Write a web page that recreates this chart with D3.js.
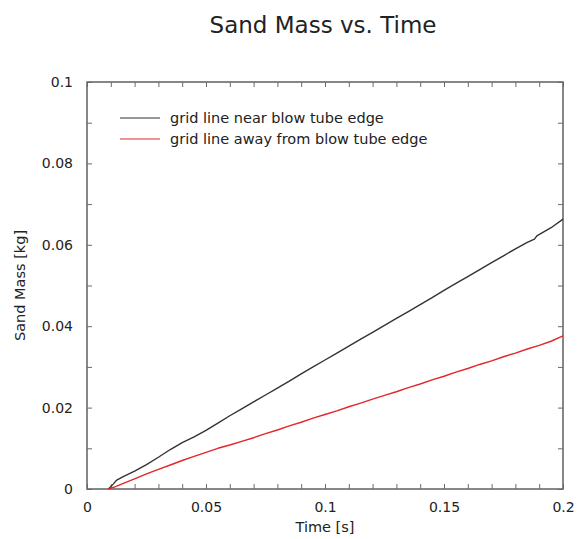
<!DOCTYPE html>
<html>
<head>
<meta charset="utf-8">
<script src="https://cdn.jsdelivr.net/npm/d3@7/dist/d3.min.js"></script>
<style>
  html, body { margin: 0; padding: 0; background: #fff; }
  svg { display: block; }
  text { font-family: "DejaVu Sans", sans-serif; fill: #222; }
</style>
</head>
<body>
<svg id="chart" width="577" height="539"></svg>
<script>
// Sand mass collected on two grid lines over time
const titleText = "Sand Mass vs. Time";
const xLabel = "Time [s]";
const yLabel = "Sand Mass [kg]";
const seriesNames = ["grid line near blow tube edge", "grid line away from blow tube edge"];
const seriesColors = ["#333333", "#e3262a"];

const xTickValues = [0, 0.05, 0.1, 0.15, 0.2];
const xTickLabels = ["0", "0.05", "0.1", "0.15", "0.2"];
const yTickValues = [0, 0.02, 0.04, 0.06, 0.08, 0.1];
const yTickLabels = ["0", "0.02", "0.04", "0.06", "0.08", "0.1"];

// near blow tube edge
const nearTime = [0.009, 0.011, 0.0125, 0.015, 0.02, 0.025, 0.03, 0.035, 0.04, 0.045, 0.05, 0.055,
  0.06, 0.065, 0.07, 0.075, 0.08, 0.085, 0.09, 0.095, 0.1, 0.105, 0.11, 0.115, 0.12, 0.125,
  0.13, 0.135, 0.14, 0.145, 0.15, 0.155, 0.16, 0.165, 0.17, 0.175, 0.18, 0.185, 0.188, 0.189,
  0.195, 0.2];
const nearMass = [0, 0.0012, 0.0022, 0.0030, 0.0044, 0.0060, 0.0078, 0.0097, 0.0114, 0.0128, 0.0144, 0.0162,
  0.0180, 0.0197, 0.0214, 0.0231, 0.0248, 0.0265, 0.0283, 0.0300, 0.0317, 0.0334, 0.0351, 0.0368, 0.0385, 0.0402,
  0.0419, 0.0436, 0.0453, 0.0470, 0.0488, 0.0505, 0.0522, 0.0539, 0.0556, 0.0573, 0.0590, 0.0606, 0.0614, 0.0622,
  0.0642, 0.0663];

// away from blow tube edge
const awayTime = [0.009, 0.012, 0.015, 0.02, 0.025, 0.03, 0.035, 0.04, 0.045, 0.05, 0.055, 0.06,
  0.065, 0.07, 0.075, 0.08, 0.085, 0.09, 0.095, 0.1, 0.105, 0.11, 0.115, 0.12, 0.125, 0.13,
  0.135, 0.14, 0.145, 0.15, 0.155, 0.16, 0.165, 0.17, 0.175, 0.18, 0.185, 0.19, 0.195, 0.2];
const awayMass = [0, 0.0006, 0.0013, 0.0025, 0.0037, 0.0048, 0.0059, 0.0070, 0.0080, 0.0090, 0.0100, 0.0108,
  0.0117, 0.0126, 0.0136, 0.0145, 0.0155, 0.0164, 0.0174, 0.0183, 0.0192, 0.0202, 0.0211, 0.0221, 0.0230, 0.0239,
  0.0249, 0.0258, 0.0268, 0.0277, 0.0287, 0.0296, 0.0306, 0.0315, 0.0325, 0.0334, 0.0344, 0.0353, 0.0363, 0.0376];

const svg = d3.select("#chart");
const m = { left: 87, right: 563, top: 82, bottom: 489 };

const x = d3.scaleLinear().domain([0, 0.2]).range([m.left, m.right]);
const y = d3.scaleLinear().domain([0, 0.1]).range([m.bottom, m.top]);

const axisColor = "#6a6a6a";
const tickLen = 5;

// title
svg.append("text")
  .attr("x", 323).attr("y", 33)
  .attr("text-anchor", "middle")
  .style("font-size", "23px")
  .text(titleText);

// minor + major ticks every 0.01 on all four sides (pointing inward)
const xMinor = d3.range(0, 21).map(i => i / 100);
const yMinor = d3.range(0, 11).map(i => i / 100);

function styleAxis(g) {
  g.select(".domain").remove();
  g.selectAll(".tick line").attr("stroke", axisColor).attr("stroke-width", 1);
  g.selectAll(".tick text").style("font-size", "14px").attr("fill", "#222");
}

svg.append("g")
  .attr("transform", `translate(0,${m.bottom})`)
  .call(d3.axisBottom(x).tickValues(xMinor).tickSize(-tickLen).tickFormat(""))
  .call(styleAxis);
svg.append("g")
  .attr("transform", `translate(0,${m.top})`)
  .call(d3.axisTop(x).tickValues(xMinor).tickSize(-tickLen).tickFormat(""))
  .call(styleAxis);
svg.append("g")
  .attr("transform", `translate(${m.left},0)`)
  .call(d3.axisLeft(y).tickValues(yMinor).tickSize(-tickLen).tickFormat(""))
  .call(styleAxis);
svg.append("g")
  .attr("transform", `translate(${m.right},0)`)
  .call(d3.axisRight(y).tickValues(yMinor).tickSize(-tickLen).tickFormat(""))
  .call(styleAxis);

// tick labels
svg.append("g")
  .attr("transform", `translate(0,${m.bottom})`)
  .call(d3.axisBottom(x).tickValues(xTickValues).tickSize(0).tickPadding(13)
    .tickFormat((d, i) => xTickLabels[i]))
  .call(styleAxis);
svg.append("g")
  .attr("transform", `translate(${m.left},0)`)
  .call(d3.axisLeft(y).tickValues(yTickValues).tickSize(0).tickPadding(14)
    .tickFormat((d, i) => yTickLabels[i]))
  .call(styleAxis);

// frame
svg.append("rect")
  .attr("x", m.left).attr("y", m.top)
  .attr("width", m.right - m.left).attr("height", m.bottom - m.top)
  .attr("fill", "none").attr("stroke", axisColor).attr("stroke-width", 1.6);

// axis titles
svg.append("text")
  .attr("x", (m.left + m.right) / 2).attr("y", 532)
  .attr("text-anchor", "middle")
  .style("font-size", "14.5px")
  .text(xLabel);
svg.append("text")
  .attr("transform", `translate(25,${(m.top + m.bottom) / 2}) rotate(-90)`)
  .attr("text-anchor", "middle")
  .style("font-size", "14.5px")
  .text(yLabel);

// series lines
const line = d3.line().x(d => x(d[0])).y(d => y(d[1]));
const series = [
  d3.zip(nearTime, nearMass),
  d3.zip(awayTime, awayMass)
];
series.forEach((pts, i) => {
  svg.append("path")
    .datum(pts)
    .attr("fill", "none")
    .attr("stroke", seriesColors[i])
    .attr("stroke-width", 1.4)
    .attr("stroke-linejoin", "round")
    .attr("d", line);
});

// legend
const legend = svg.append("g");
seriesNames.forEach((name, i) => {
  const ly = 118 + i * 21;
  legend.append("line")
    .attr("x1", 120).attr("x2", 160)
    .attr("y1", ly).attr("y2", ly)
    .attr("stroke", seriesColors[i]).attr("stroke-width", 1.1);
  legend.append("text")
    .attr("x", 170).attr("y", ly)
    .attr("dy", "0.35em")
    .style("font-size", "14.5px")
    .text(name);
});
</script>
</body>
</html>
